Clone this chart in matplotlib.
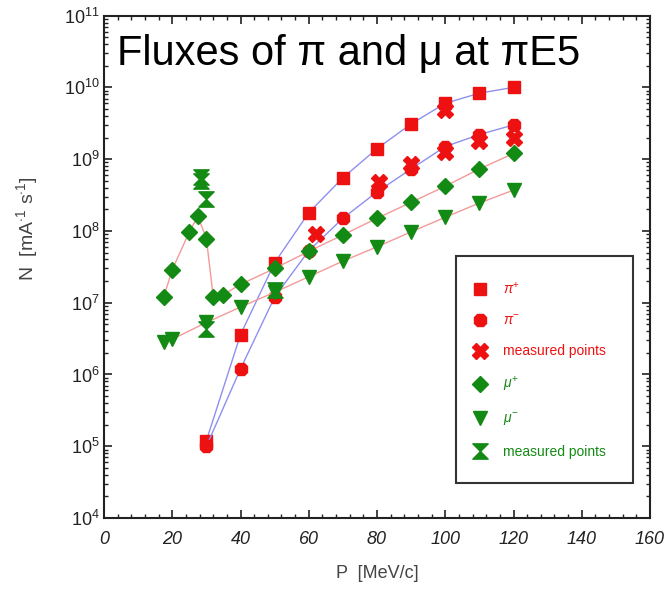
import numpy as np
import matplotlib
matplotlib.use('Agg')
import matplotlib.pyplot as plt
from matplotlib.path import Path
from matplotlib.lines import Line2D
from matplotlib.ticker import MultipleLocator, LogLocator, FixedLocator, FixedFormatter, NullFormatter

plt.rcParams['font.family'] = ['Liberation Sans', 'DejaVu Sans']
plt.rcParams['mathtext.fontset'] = 'custom'
plt.rcParams['mathtext.it'] = 'Liberation Sans:italic'
plt.rcParams['mathtext.rm'] = 'Liberation Sans'

# pi+ (squares)
p_pip = [30, 40, 50, 60, 70, 80, 90, 100, 110, 120]
n_pip = [1.2e5, 3.6e6, 3.6e7, 1.8e8, 5.5e8, 1.4e9, 3.1e9, 6.0e9, 8.3e9, 1.0e10]
# pi- (octagons)
p_pim = [30, 40, 50, 60, 70, 80, 90, 100, 110, 120]
n_pim = [1.0e5, 1.2e6, 1.2e7, 5.3e7, 1.5e8, 3.5e8, 7.3e8, 1.5e9, 2.2e9, 3.0e9]
# pi measured points
p_pi_meas = [62, 80.5, 90, 100, 100, 110, 120]
n_pi_meas = [9.0e7, 4.8e8, 8.5e8, 4.9e9, 1.25e9, 1.8e9, 2.0e9]
# mu+ (diamonds)
p_mup = [17.5, 20, 25, 27.5, 30, 32, 35, 40, 50, 60, 70, 80, 90, 100, 110, 120]
n_mup = [1.2e7, 2.9e7, 9.7e7, 1.6e8, 7.8e7, 1.2e7, 1.3e7, 1.8e7, 3.0e7, 5.2e7,
         8.8e7, 1.5e8, 2.5e8, 4.2e8, 7.3e8, 1.2e9]
# mu- (triangles)
p_mum = [17.5, 20, 30, 40, 50, 60, 70, 80, 90, 100, 110, 120]
n_mum = [2.8e6, 3.1e6, 5.3e6, 8.7e6, 1.4e7, 2.3e7, 3.8e7, 6.0e7, 9.7e7, 1.55e8, 2.45e8, 3.7e8]
# mu measured points
p_mu_meas = [28.5, 28.5, 30, 30, 50]
n_mu_meas = [5.6e8, 5.0e8, 2.8e8, 4.3e6, 1.5e7]

legend_labels = [r'$\pi^{+}$', r'$\pi^{-}$', 'measured points',
                 r'$\mu^{+}$', r'$\mu^{-}$', 'measured points']
xticks = [0, 20, 40, 60, 80, 100, 120, 140, 160]
ydecades = [4, 5, 6, 7, 8, 9, 10, 11]

red = '#ee1111'
green = '#138a13'
blue_line = '#8f8ff0'
pink_line = '#f29a9a'

hourglass = Path([(-1, 1), (1, 1), (0, 0), (1, -1), (-1, -1), (0, 0), (-1, 1)],
                 [1, 2, 2, 2, 2, 2, 79])

fig = plt.figure(figsize=(6.67, 5.89), dpi=100)
ax = fig.add_axes([0.156, 0.1205, 0.8185, 0.853])

ax.plot(p_pip, n_pip, color=blue_line, lw=1, marker='s', ms=9, mfc=red, mec=red, zorder=3)
ax.plot(p_pim, n_pim, color=blue_line, lw=1, marker='8', ms=10, mfc=red, mec=red, zorder=3)
ax.plot(p_mup, n_mup, color=pink_line, lw=1, marker='D', ms=8, mfc=green, mec=green, zorder=3)
ax.plot(p_mum, n_mum, color=pink_line, lw=1, marker='v', ms=9.5, mfc=green, mec=green, zorder=3)
ax.plot(p_pi_meas, n_pi_meas, ls='none', marker='X', ms=11, mfc=red, mec=red, zorder=4)
ax.plot(p_mu_meas, n_mu_meas, ls='none', marker=hourglass, ms=11, mfc=green, mec=green, zorder=4)

ax.set_yscale('log')
ax.set_xlim(0, 160)
ax.set_ylim(1e4, 1e11)

ax.xaxis.set_major_locator(FixedLocator(xticks))
ax.xaxis.set_minor_locator(MultipleLocator(4))
ax.yaxis.set_major_locator(FixedLocator([10.0 ** d for d in ydecades]))
ax.yaxis.set_major_formatter(FixedFormatter([r'$\mathit{10^{%d}}$' % d for d in ydecades]))
ax.yaxis.set_minor_locator(LogLocator(base=10, subs=np.arange(2, 10)))
ax.yaxis.set_minor_formatter(NullFormatter())
ax.set_xticklabels([str(v) for v in xticks], fontstyle='italic')

ax.tick_params(which='both', direction='in', top=True, right=True, colors='#222222')
ax.tick_params(which='major', length=6, width=1.2)
ax.tick_params(which='minor', length=3, width=1)
ax.tick_params(axis='x', which='major', pad=9, labelsize=13)
ax.tick_params(axis='y', which='major', pad=3, labelsize=13)
for sp in ax.spines.values():
    sp.set_color('#222222')
    sp.set_linewidth(1.5)

ax.set_xlabel('P  [MeV/c]', fontsize=13, color='#444444')
ax.xaxis.set_label_coords(0.5, -0.094)
ax.set_ylabel(r'N  [mA$^{\cdot 1}$ s$^{\cdot 1}$]', fontsize=14, color='#444444')
ax.yaxis.set_label_coords(-0.117, 0.577)

ax.text(0.024, 0.9015, 'Fluxes of π and μ at πE5', transform=ax.transAxes,
        fontsize=30, color='black', va='baseline', ha='left')

handles = [
    Line2D([], [], ls='none', marker='s', ms=9, mfc=red, mec=red),
    Line2D([], [], ls='none', marker='8', ms=10, mfc=red, mec=red),
    Line2D([], [], ls='none', marker='X', ms=11, mfc=red, mec=red),
    Line2D([], [], ls='none', marker='D', ms=8, mfc=green, mec=green),
    Line2D([], [], ls='none', marker='v', ms=9.5, mfc=green, mec=green),
    Line2D([], [], ls='none', marker=hourglass, ms=11, mfc=green, mec=green),
]
leg = ax.legend(handles, legend_labels, loc='upper left', bbox_to_anchor=(0.645, 0.521, 0.324, 0.0),
                mode='expand', borderaxespad=0, fontsize=10, handlelength=0,
                handletextpad=1.6, borderpad=1.75, labelspacing=1.22, fancybox=False,
                framealpha=1, edgecolor='#333333')
leg.get_frame().set_linewidth(1.5)
for t, c in zip(leg.get_texts(), [red, red, red, green, green, green]):
    t.set_color(c)

fig.savefig('out.png', dpi=100)
